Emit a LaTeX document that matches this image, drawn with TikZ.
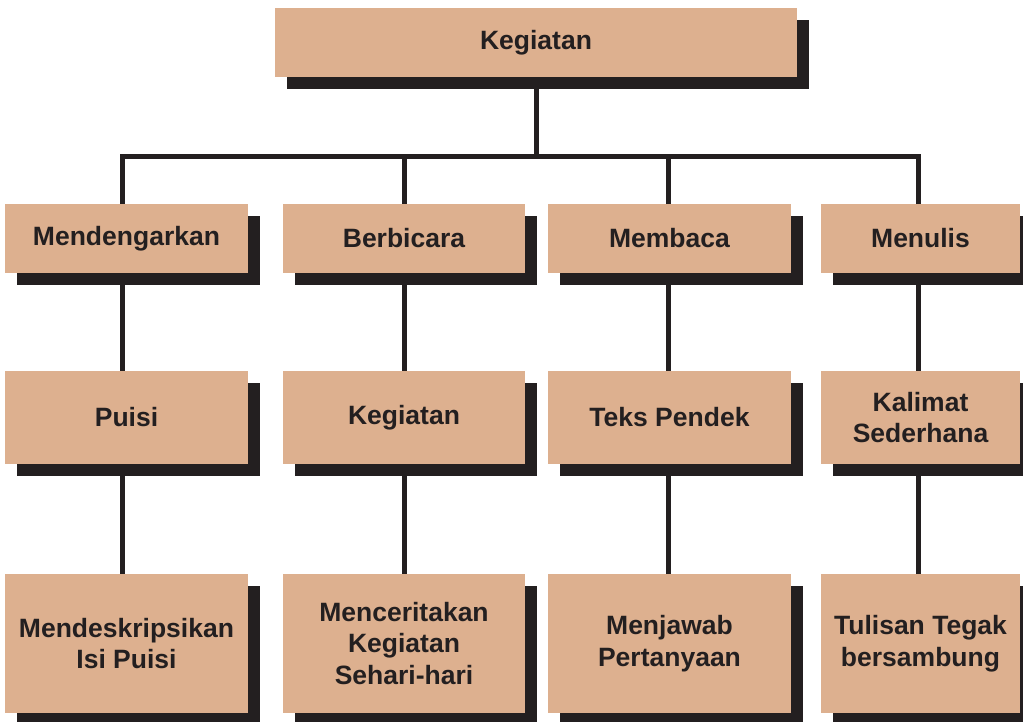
\documentclass[tikz,border=0pt]{standalone}
\usepackage{fontspec}
\setmainfont{Liberation Sans}
\usetikzlibrary{shadows}
\definecolor{boxfill}{RGB}{221,176,143}
\definecolor{ink}{RGB}{35,31,32}
\tikzset{
  kotak/.style={rectangle, fill=boxfill, inner sep=0pt, align=center, text=ink,
    font=\fontsize{26.5}{31.5}\selectfont\bfseries,
    drop shadow={shadow xshift=12pt, shadow yshift=-12pt, fill=ink, opacity=1}},
  baris1/.style={kotak, minimum height=69pt},
  baris2/.style={kotak, minimum height=93pt},
  baris3/.style={kotak, minimum height=139pt},
  link/.style={draw=ink, line width=5pt}
}

\begin{document}
\begin{tikzpicture}[x=1pt, y=-1pt]
\useasboundingbox (0,0) rectangle (1023,721);

  % puncak
  \node [baris1, minimum width=522pt] (keg) at (536,42.5) {Kegiatan};

  % baris kedua
  \node [baris1, minimum width=243pt] (dengar) at (126.5,238.5) {Mendengarkan};
  \node [baris1, minimum width=242pt] (bicara) at (404,238.5) {Berbicara};
  \node [baris1, minimum width=243pt] (baca) at (669.5,238.5) {Membaca};
  \node [baris1, minimum width=199pt] (tulis) at (920.5,238.5) {Menulis};

  % baris ketiga
  \node [baris2, minimum width=243pt] (puisi) at (126.5,417.5) {Puisi};
  \node [baris2, minimum width=242pt] (kegb) at (404,417.5) {Kegiatan};
  \node [baris2, minimum width=243pt] (teks) at (669.5,417.5) {Teks Pendek};
  \node [baris2, minimum width=199pt] (kalimat) at (920.5,417.5) {Kalimat\\Sederhana};

  % baris keempat
  \node [baris3, minimum width=243pt] (deskripsi) at (126.5,643.5) {Mendeskripsikan\\Isi Puisi};
  \node [baris3, minimum width=242pt] (cerita) at (404,643.5) {Menceritakan\\Kegiatan\\Sehari-hari};
  \node [baris3, minimum width=243pt] (jawab) at (669.5,643.5) {Menjawab\\Pertanyaan};
  \node [baris3, minimum width=199pt] (tegak) at (920.5,643.5) {Tulisan Tegak\\bersambung};

  % garis
  \coordinate (hub) at (536,156);
  \draw [link] (keg) -- (hub);
  \draw [link] ([xshift=-4.5pt]dengar.north) |- (hub) -| ([xshift=-2.5pt]tulis.north);
  \draw [link] (bicara.north) -- (bicara.north |- hub);
  \draw [link] ([xshift=-1.5pt]baca.north) -- ([xshift=-1.5pt]baca.north |- hub);

  \draw [link] ([xshift=-4.5pt]dengar.south) -- ([xshift=-4.5pt]puisi.north);
  \draw [link] (bicara) -- (kegb);
  \draw [link] ([xshift=-1.5pt]baca.south) -- ([xshift=-1.5pt]teks.north);
  \draw [link] ([xshift=-2.5pt]tulis.south) -- ([xshift=-2.5pt]kalimat.north);

  \draw [link] ([xshift=-4.5pt]puisi.south) -- ([xshift=-4.5pt]deskripsi.north);
  \draw [link] (kegb) -- (cerita);
  \draw [link] ([xshift=-1.5pt]teks.south) -- ([xshift=-1.5pt]jawab.north);
  \draw [link] ([xshift=-2.5pt]kalimat.south) -- ([xshift=-2.5pt]tegak.north);
\end{tikzpicture}
\end{document}
